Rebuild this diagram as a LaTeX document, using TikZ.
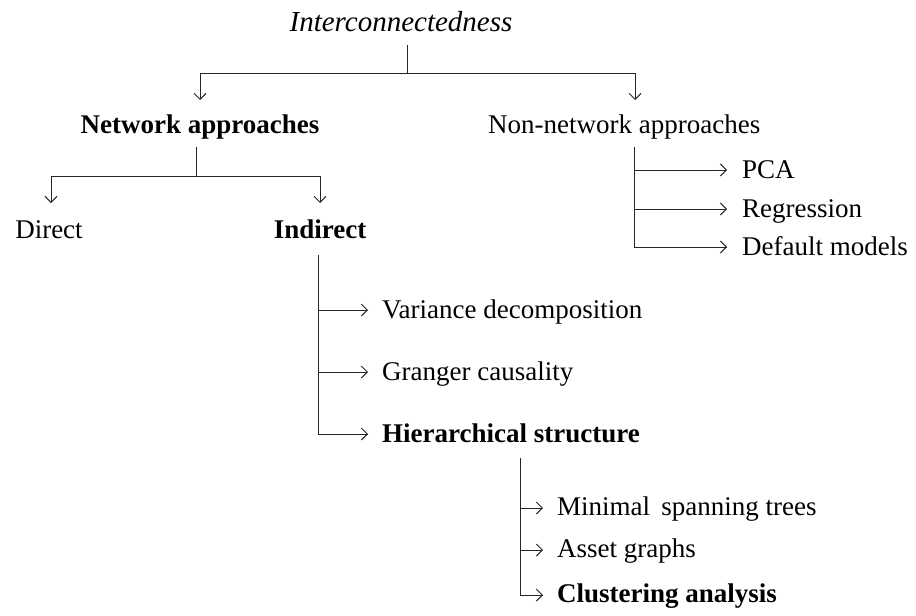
\documentclass[tikz,border=0pt]{standalone}
\usepackage{fontspec}
\setmainfont{Liberation Serif}
\usetikzlibrary{arrows.meta}
\begin{document}
\begin{tikzpicture}[x=1pt,y=-1pt,
  lbl/.style={inner sep=0pt, font=\fontsize{27}{31}\selectfont},
  blbl/.style={lbl, font=\fontsize{27}{31}\selectfont\bfseries},
  conn/.style={draw=black!85, line width=1pt},
  arr/.style={conn, -{Straight Barb[length=6pt,width=12pt]}}]
\useasboundingbox (0,0) rectangle (916,616);
% nodes
\node[lbl, anchor=base, font=\fontsize{29}{33}\selectfont\itshape] (root) at (401,31) {Interconnectedness};
\node[blbl, anchor=base] (net) at (200,133) {Network approaches};
\node[lbl, anchor=base west] (nonnet) at (488,133) {Non-network approaches};
\node[lbl, anchor=base] (direct) at (49,238) {Direct};
\node[blbl, anchor=base] (indirect) at (320,238) {Indirect};
\node[lbl, anchor=base west] (pca) at (742,178) {PCA};
\node[lbl, anchor=base west] (regr) at (742,217) {Regression};
\node[lbl, anchor=base west] (default) at (742,255) {Default models};
\node[lbl, anchor=base west] (var) at (382,318) {Variance decomposition};
\node[lbl, anchor=base west] (granger) at (382,380) {Granger causality};
\node[blbl, anchor=base west] (hier) at (382,442) {Hierarchical structure};
\node[lbl, anchor=base west] (mst) at (557,515) {Minimal\, spanning trees};
\node[lbl, anchor=base west] (asset) at (557,557) {Asset graphs};
\node[blbl, anchor=base west] (clust) at (557,602) {Clustering analysis};
% top level
\draw[conn] ([shift={(6,14)}]root.base) -- ++(0,28) coordinate (tj);
\draw[arr] (tj) -| ([shift={(0,-33)}]net.base);
\draw[arr] (tj) -| ([shift={(147,-33)}]nonnet.base west);
% network approaches
\draw[conn] ([shift={(-4,14)}]net.base) -- ++(0,29) coordinate (nj);
\draw[arr] (nj) -| ([shift={(2,-35)}]direct.base);
\draw[arr] (nj) -| ([shift={(0,-35)}]indirect.base);
% non-network approaches
\draw[conn] ([shift={(146,14)}]nonnet.base west) coordinate (nn0) |- ([shift={(-15,-8)}]default.base west);
\draw[arr] (nn0 |- default.base) ++(0,-8) -- ([shift={(-15,-8)}]default.base west);
\draw[arr] (nn0 |- regr.base) ++(0,-8) -- ([shift={(-15,-8)}]regr.base west);
\draw[arr] (nn0 |- pca.base) ++(0,-8) -- ([shift={(-15,-8)}]pca.base west);
% indirect
\draw[conn] ([shift={(-2,17)}]indirect.base) coordinate (in0) |- ([shift={(-14,-8)}]hier.base west);
\draw[arr] (in0 |- hier.base) ++(0,-8) -- ([shift={(-14,-8)}]hier.base west);
\draw[arr] (in0 |- granger.base) ++(0,-8) -- ([shift={(-14,-8)}]granger.base west);
\draw[arr] (in0 |- var.base) ++(0,-8) -- ([shift={(-14,-8)}]var.base west);
% hierarchical
\draw[conn] ([shift={(138,16)}]hier.base west) coordinate (h0) |- ([shift={(-14,-7)}]clust.base west);
\draw[arr] (h0 |- clust.base) ++(0,-7) -- ([shift={(-14,-7)}]clust.base west);
\draw[arr] (h0 |- asset.base) ++(0,-7) -- ([shift={(-14,-7)}]asset.base west);
\draw[arr] (h0 |- mst.base) ++(0,-7) -- ([shift={(-14,-7)}]mst.base west);
\end{tikzpicture}
\end{document}
